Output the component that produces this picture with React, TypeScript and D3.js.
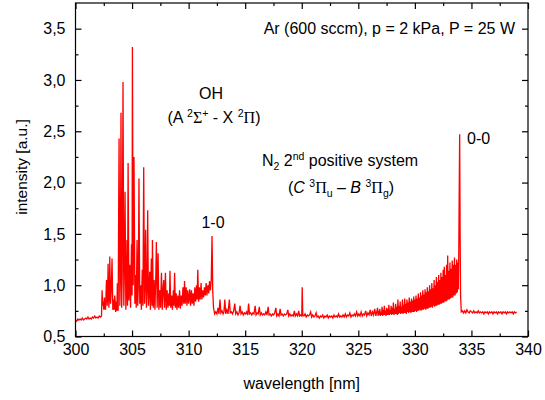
import React, { useEffect, useRef } from "react";
import * as d3 from "d3";

// axis ticks
const xTicks = [300, 305, 310, 315, 320, 325, 330, 335, 340];
const xMinorTicks = [302.5, 307.5, 312.5, 317.5, 322.5, 327.5, 332.5, 337.5];
const yTicks = [0.5, 1.0, 1.5, 2.0, 2.5, 3.0, 3.5];
const yTickLabels = ["0,5", "1,0", "1,5", "2,0", "2,5", "3,0", "3,5"];
const yMinorTicks = [0.75, 1.25, 1.75, 2.25, 2.75, 3.25];

// spectrum: [wavelength nm, intensity a.u.]
const baseLeft: [number, number][] = [
  [300.0, 0.66], [300.1, 0.65], [300.2, 0.67], [300.3, 0.66], [300.4, 0.67],
  [300.5, 0.66], [300.6, 0.68], [300.7, 0.66], [300.8, 0.67], [300.9, 0.68],
  [301.0, 0.67], [301.1, 0.69], [301.2, 0.67], [301.3, 0.68], [301.4, 0.67],
  [301.5, 0.69], [301.6, 0.68], [301.7, 0.7], [301.8, 0.68], [301.9, 0.69],
  [302.0, 0.68], [302.1, 0.7], [302.2, 0.69], [302.3, 0.7],
];

const ohBand: [number, number][] = [
  [302.35, 0.95], [302.4, 0.8], [302.45, 0.84], [302.5, 0.76], [302.55, 0.88],
  [302.6, 0.78], [302.65, 0.76], [302.74, 1.05], [302.8, 0.8], [302.84, 0.9],
  [302.88, 1.21], [302.95, 0.78], [303.0, 0.9], [303.03, 1.28], [303.1, 0.82],
  [303.16, 0.95], [303.23, 1.26], [303.3, 0.76], [303.38, 0.86], [303.42, 0.76],
  [303.47, 0.9], [303.55, 0.74], [303.62, 0.84], [303.66, 0.75], [303.7, 1.02],
  [303.77, 0.75], [303.85, 2.43], [303.92, 0.8], [303.97, 1.1], [304.02, 2.68],
  [304.08, 0.78], [304.13, 1.1], [304.2, 2.98], [304.27, 0.8], [304.33, 1.2],
  [304.38, 1.91], [304.45, 0.76], [304.5, 0.95], [304.55, 1.44], [304.6, 0.8],
  [304.65, 2.19], [304.72, 0.85], [304.8, 1.2], [304.87, 0.78], [304.95, 1.4],
  [305.0, 0.9], [305.03, 3.32], [305.1, 1.0], [305.17, 2.25], [305.25, 0.82],
  [305.3, 1.1], [305.37, 0.78], [305.44, 1.44], [305.5, 0.8], [305.55, 0.98],
  [305.61, 2.04], [305.68, 0.82], [305.75, 1.0], [305.82, 0.76], [305.9, 1.15],
  [305.96, 0.8], [306.03, 2.15], [306.1, 0.82], [306.15, 1.0], [306.2, 1.54],
  [306.27, 0.78], [306.33, 0.95], [306.38, 1.73], [306.45, 0.8], [306.5, 0.92],
  [306.56, 1.13], [306.62, 0.76], [306.7, 1.26], [306.76, 0.8], [306.8, 1.44],
  [306.88, 0.78], [306.95, 1.05], [307.02, 0.76], [307.1, 1.1], [307.15, 1.42],
  [307.22, 0.78], [307.3, 1.31], [307.37, 0.76], [307.45, 0.95], [307.52, 0.78],
  [307.6, 1.12], [307.67, 0.76], [307.75, 0.98], [307.8, 1.05], [307.87, 0.78],
  [307.95, 1.12], [308.02, 0.76], [308.1, 0.95], [308.17, 0.78], [308.25, 0.92],
  [308.3, 0.8], [308.35, 1.14], [308.42, 0.78], [308.5, 0.9], [308.57, 0.76],
  [308.65, 0.95], [308.7, 0.8], [308.76, 1.12], [308.83, 0.78], [308.9, 0.92],
  [308.97, 0.76], [309.05, 0.9], [309.12, 0.78], [309.2, 0.95], [309.27, 0.77],
  [309.35, 0.9], [309.42, 0.8], [309.5, 0.98], [309.57, 0.82], [309.64, 1.04],
  [309.7, 0.82], [309.78, 0.98], [309.85, 0.8], [309.92, 0.95], [310.0, 0.82],
  [310.1, 0.96], [310.17, 0.8], [310.25, 0.95], [310.32, 0.82], [310.4, 0.92],
  [310.47, 0.8], [310.55, 0.98], [310.62, 0.84], [310.7, 1.0], [310.75, 0.86],
  [310.81, 1.15], [310.88, 0.84], [310.95, 0.98], [311.02, 0.86], [311.1, 1.02],
  [311.17, 0.86], [311.25, 0.95], [311.32, 0.88], [311.4, 0.98], [311.47, 0.9],
  [311.55, 1.02], [311.62, 0.9], [311.7, 1.0], [311.78, 0.92], [311.85, 1.04],
  [311.93, 0.95], [312.0, 1.05], [312.07, 1.48], [312.13, 0.95], [312.2, 0.78],
  [312.3, 0.72],
];

const midRange: [number, number][] = [
  [312.4, 0.74], [312.5, 0.72], [312.6, 0.78], [312.68, 0.72], [312.77, 0.86],
  [312.85, 0.73], [312.95, 0.75], [313.05, 0.72], [313.12, 0.74], [313.2, 0.86],
  [313.28, 0.72], [313.38, 0.76], [313.48, 0.72], [313.6, 0.86], [313.68, 0.73],
  [313.78, 0.74], [313.88, 0.72], [313.98, 0.75], [314.08, 0.82], [314.16, 0.72],
  [314.26, 0.74], [314.36, 0.71], [314.46, 0.73], [314.55, 0.8], [314.63, 0.72],
  [314.73, 0.74], [314.83, 0.71], [314.93, 0.73], [315.03, 0.72], [315.13, 0.74],
  [315.22, 0.71], [315.3, 0.82], [315.38, 0.72], [315.48, 0.73], [315.58, 0.71],
  [315.68, 0.73], [315.78, 0.72], [315.88, 0.8], [315.96, 0.71], [316.06, 0.73],
  [316.15, 0.72], [316.25, 0.79], [316.33, 0.71], [316.43, 0.73], [316.53, 0.71],
  [316.63, 0.72], [316.73, 0.71], [316.83, 0.74], [316.93, 0.71], [317.03, 0.79],
  [317.11, 0.71], [317.21, 0.72], [317.31, 0.7], [317.41, 0.72], [317.51, 0.71],
  [317.61, 0.73], [317.71, 0.78], [317.79, 0.7], [317.89, 0.72], [317.99, 0.7],
  [318.09, 0.77], [318.17, 0.71], [318.27, 0.72], [318.37, 0.7], [318.47, 0.72],
  [318.57, 0.71], [318.67, 0.72], [318.77, 0.76], [318.85, 0.7], [318.95, 0.72],
  [319.05, 0.7], [319.15, 0.71], [319.25, 0.7], [319.35, 0.75], [319.43, 0.7],
  [319.53, 0.72], [319.63, 0.7], [319.73, 0.75], [319.81, 0.7], [319.91, 0.71],
  [320.0, 0.7], [320.04, 0.98], [320.09, 0.71], [320.19, 0.7], [320.29, 0.72],
  [320.39, 0.69], [320.49, 0.71], [320.59, 0.7], [320.69, 0.71], [320.79, 0.74],
  [320.87, 0.69], [320.97, 0.71], [321.07, 0.69], [321.17, 0.7], [321.27, 0.73],
  [321.35, 0.69], [321.45, 0.7], [321.55, 0.68], [321.65, 0.7], [321.75, 0.69],
  [321.85, 0.71], [321.95, 0.68], [322.05, 0.7], [322.15, 0.69], [322.25, 0.71],
  [322.35, 0.68], [322.45, 0.7], [322.55, 0.69], [322.65, 0.7], [322.75, 0.68],
  [322.85, 0.71], [322.95, 0.69], [323.05, 0.7], [323.15, 0.69], [323.25, 0.72],
  [323.35, 0.69], [323.45, 0.7], [323.55, 0.69], [323.65, 0.71], [323.75, 0.69],
  [323.85, 0.72], [323.95, 0.69], [324.05, 0.71], [324.15, 0.7], [324.25, 0.73],
  [324.35, 0.69], [324.45, 0.71], [324.55, 0.7], [324.65, 0.72], [324.75, 0.7],
  [324.85, 0.74], [324.95, 0.7], [325.05, 0.72], [325.15, 0.7], [325.25, 0.74],
  [325.35, 0.7], [325.45, 0.72], [325.55, 0.71], [325.65, 0.75], [325.75, 0.7],
  [325.85, 0.73], [325.95, 0.71], [326.05, 0.76], [326.15, 0.7], [326.25, 0.74],
  [326.35, 0.71], [326.45, 0.77], [326.55, 0.7], [326.65, 0.75],
];

const n2Band: [number, number][] = [
  [326.7, 0.78], [326.75, 0.7], [326.8, 0.75], [326.85, 0.71], [326.9, 0.77],
  [326.95, 0.7], [327.0, 0.74], [327.05, 0.71], [327.1, 0.79], [327.15, 0.7],
  [327.2, 0.76], [327.25, 0.71], [327.3, 0.8], [327.35, 0.71], [327.4, 0.75],
  [327.45, 0.7], [327.5, 0.78], [327.55, 0.71], [327.6, 0.77], [327.65, 0.71],
  [327.7, 0.81], [327.75, 0.71], [327.8, 0.76], [327.85, 0.72], [327.9, 0.8],
  [327.95, 0.71], [328.0, 0.78], [328.05, 0.72], [328.1, 0.83], [328.15, 0.71],
  [328.2, 0.77], [328.25, 0.72], [328.3, 0.82], [328.35, 0.72], [328.4, 0.79],
  [328.45, 0.71], [328.5, 0.86], [328.55, 0.72], [328.6, 0.8], [328.65, 0.73],
  [328.7, 0.84], [328.75, 0.72], [328.8, 0.79], [328.85, 0.73], [328.9, 0.86],
  [328.95, 0.72], [329.0, 0.81], [329.05, 0.73], [329.1, 0.87], [329.15, 0.73],
  [329.2, 0.82], [329.25, 0.72], [329.3, 0.86], [329.35, 0.74], [329.4, 0.83],
  [329.45, 0.73], [329.5, 0.88], [329.55, 0.74], [329.6, 0.84], [329.65, 0.73],
  [329.7, 0.87], [329.75, 0.74], [329.8, 0.85], [329.85, 0.74], [329.9, 0.89],
  [329.95, 0.74], [330.0, 0.86], [330.05, 0.75], [330.1, 0.9], [330.15, 0.74],
  [330.2, 0.87], [330.25, 0.75], [330.3, 0.92], [330.35, 0.75], [330.4, 0.88],
  [330.45, 0.76], [330.5, 0.93], [330.55, 0.75], [330.6, 0.9], [330.65, 0.76],
  [330.7, 0.95], [330.75, 0.76], [330.8, 0.91], [330.85, 0.77], [330.9, 0.96],
  [330.95, 0.76], [331.0, 0.93], [331.05, 0.77], [331.1, 0.98], [331.15, 0.77],
  [331.2, 0.94], [331.25, 0.78], [331.3, 1.0], [331.35, 0.78], [331.4, 0.96],
  [331.45, 0.79], [331.5, 1.02], [331.55, 0.78], [331.6, 0.97], [331.65, 0.8],
  [331.7, 1.05], [331.75, 0.79], [331.8, 1.0], [331.85, 0.8], [331.9, 1.08],
  [331.95, 0.8], [332.0, 1.03], [332.05, 0.81], [332.1, 1.1], [332.15, 0.81],
  [332.2, 1.05], [332.25, 0.82], [332.3, 1.12], [332.35, 0.82], [332.4, 1.08],
  [332.45, 0.83], [332.5, 1.15], [332.55, 0.83], [332.6, 1.18], [332.65, 0.84],
  [332.7, 1.1], [332.75, 0.84], [332.8, 1.2], [332.85, 0.85], [332.9, 1.29],
  [332.95, 0.86], [333.0, 1.14], [333.05, 0.86], [333.1, 1.22], [333.15, 0.87],
  [333.2, 1.16], [333.25, 0.88], [333.3, 1.24], [333.35, 0.88], [333.4, 1.2],
  [333.45, 0.9], [333.5, 1.27], [333.55, 0.9], [333.6, 1.2], [333.65, 0.92],
  [333.7, 1.25], [333.75, 0.93], [333.8, 1.22], [333.85, 0.96],
];

const bandHead: [number, number][] = [
  [333.88, 1.31], [333.92, 1.92], [333.96, 2.47], [334.0, 1.5], [334.04, 0.9],
  [334.1, 0.74],
];

const baseRight: [number, number][] = [
  [334.2, 0.75], [334.3, 0.73], [334.4, 0.75], [334.5, 0.73], [334.6, 0.76],
  [334.7, 0.74], [334.8, 0.73], [334.9, 0.75], [335.0, 0.74], [335.1, 0.73],
  [335.2, 0.75], [335.3, 0.73], [335.4, 0.74], [335.5, 0.73], [335.6, 0.75],
  [335.7, 0.73], [335.8, 0.74], [335.9, 0.73], [336.0, 0.74], [336.1, 0.72],
  [336.2, 0.74], [336.3, 0.73], [336.4, 0.74], [336.5, 0.72], [336.6, 0.74],
  [336.7, 0.73], [336.8, 0.74], [336.9, 0.72], [337.0, 0.74], [337.1, 0.73],
  [337.2, 0.74], [337.3, 0.72], [337.4, 0.74], [337.5, 0.73], [337.6, 0.74],
  [337.7, 0.72], [337.8, 0.74], [337.9, 0.73], [338.0, 0.74], [338.1, 0.72],
  [338.2, 0.74], [338.3, 0.73], [338.4, 0.74], [338.5, 0.73], [338.6, 0.74],
  [338.7, 0.72], [338.8, 0.74], [338.9, 0.73], [339.0, 0.74],
];

const W = 545;
const H = 400;
const M = { left: 75.5, right: 528, top: 3, bottom: 336.5 };
const FONT = "'Liberation Sans', Arial, sans-serif";
const GREEK = "'Liberation Serif', 'Times New Roman', serif";

export default function App() {
  const ref = useRef<SVGGElement>(null);

  useEffect(() => {
    const svg = d3.select(ref.current);
    svg.selectAll("*").remove();

    const x = d3.scaleLinear().domain([300, 340]).range([M.left, M.right]);
    const y = d3.scaleLinear().domain([0.5, 3.75]).range([M.bottom, M.top]);

    const spectrum = [...baseLeft, ...ohBand, ...midRange, ...n2Band, ...bandHead, ...baseRight];

    const line = d3.line<[number, number]>()
      .x(d => x(d[0]))
      .y(d => y(d[1]));

    svg.append("path")
      .datum(spectrum)
      .attr("d", line)
      .attr("fill", "none")
      .attr("stroke", "#ff0000")
      .attr("stroke-width", 1.3);

    // ticks on all four sides, pointing inward
    const addAxis = (axis: d3.Axis<number>, tx: number, ty: number, labels: boolean) => {
      const g = svg.append("g").attr("transform", `translate(${tx},${ty})`).call(axis as any);
      g.select(".domain").remove();
      g.selectAll("line").attr("stroke", "#000").attr("stroke-width", 1.2);
      g.selectAll("text")
        .attr("font-family", FONT)
        .attr("font-size", 16)
        .attr("fill", "#000");
      if (!labels) g.selectAll("text").remove();
      return g;
    };

    addAxis(d3.axisBottom<number>(x).tickValues(xTicks).tickSize(-6).tickPadding(7)
      .tickFormat(d3.format("d")), 0, M.bottom, true);
    addAxis(d3.axisBottom<number>(x).tickValues(xMinorTicks).tickSize(-3), 0, M.bottom, false);
    addAxis(d3.axisTop<number>(x).tickValues(xTicks).tickSize(-6), 0, M.top, false);
    addAxis(d3.axisTop<number>(x).tickValues(xMinorTicks).tickSize(-3), 0, M.top, false);

    addAxis(d3.axisLeft<number>(y).tickValues(yTicks).tickSize(-6).tickPadding(10)
      .tickFormat((d, i) => yTickLabels[i]), M.left, 0, true);
    addAxis(d3.axisLeft<number>(y).tickValues(yMinorTicks).tickSize(-3), M.left, 0, false);
    addAxis(d3.axisRight<number>(y).tickValues(yTicks).tickSize(-6), M.right, 0, false);
    addAxis(d3.axisRight<number>(y).tickValues(yMinorTicks).tickSize(-3), M.right, 0, false);

    svg.append("rect")
      .attr("x", M.left).attr("y", M.top)
      .attr("width", M.right - M.left).attr("height", M.bottom - M.top)
      .attr("fill", "none").attr("stroke", "#000").attr("stroke-width", 1.2);

    // axis titles
    svg.append("text")
      .attr("x", (M.left + M.right) / 2).attr("y", 389)
      .attr("text-anchor", "middle")
      .attr("font-family", FONT).attr("font-size", 16)
      .text("wavelength [nm]");

    svg.append("text")
      .attr("transform", `translate(26.5,167) rotate(-90)`)
      .attr("text-anchor", "middle")
      .attr("font-family", FONT).attr("font-size", 15.5)
      .text("intensity [a.u.]");
  }, []);

  const t = { fontFamily: FONT, fontSize: 16, fill: "#000" };
  const s = 10.5; // size of super/subscripts

  return (
    <svg width={W} height={H}
      style={{ position: "absolute", left: 0, top: 0, background: "#fff" }}>
      <g ref={ref} />
      <g {...t}>
        <text x={515} y={34} textAnchor="end">Ar (600 sccm), p = 2 kPa, P = 25 W</text>
        <text x={211} y={99} textAnchor="middle">OH</text>
        <text x={214} y={123} textAnchor="middle">
          {"(A "}
          <tspan dy={-6} fontSize={s}>2</tspan>
          <tspan dy={6} fontFamily={GREEK}>Σ</tspan>
          <tspan dy={-6} fontSize={s}>+</tspan>
          <tspan dy={6}>{" - X "}</tspan>
          <tspan dy={-6} fontSize={s}>2</tspan>
          <tspan dy={6} fontFamily={GREEK}>Π</tspan>
          <tspan>)</tspan>
        </text>
        <text x={213} y={228} textAnchor="middle">1-0</text>
        <text x={340} y={166} textAnchor="middle">
          N
          <tspan dy={4} fontSize={s}>2</tspan>
          <tspan dy={-4}>{" 2"}</tspan>
          <tspan dy={-6} fontSize={s}>nd</tspan>
          <tspan dy={6}>{" positive system"}</tspan>
        </text>
        <text x={341} y={193} textAnchor="middle">
          {"("}
          <tspan fontStyle="italic">C</tspan>
          <tspan>{" "}</tspan>
          <tspan dy={-6} fontSize={s}>3</tspan>
          <tspan dy={6} fontFamily={GREEK}>Π</tspan>
          <tspan dy={4} fontSize={s}>u</tspan>
          <tspan dy={-4}>{" – "}</tspan>
          <tspan fontStyle="italic">B</tspan>
          <tspan>{" "}</tspan>
          <tspan dy={-6} fontSize={s}>3</tspan>
          <tspan dy={6} fontFamily={GREEK}>Π</tspan>
          <tspan dy={4} fontSize={s}>g</tspan>
          <tspan dy={-4}>)</tspan>
        </text>
        <text x={467} y={144}>0-0</text>
      </g>
    </svg>
  );
}
